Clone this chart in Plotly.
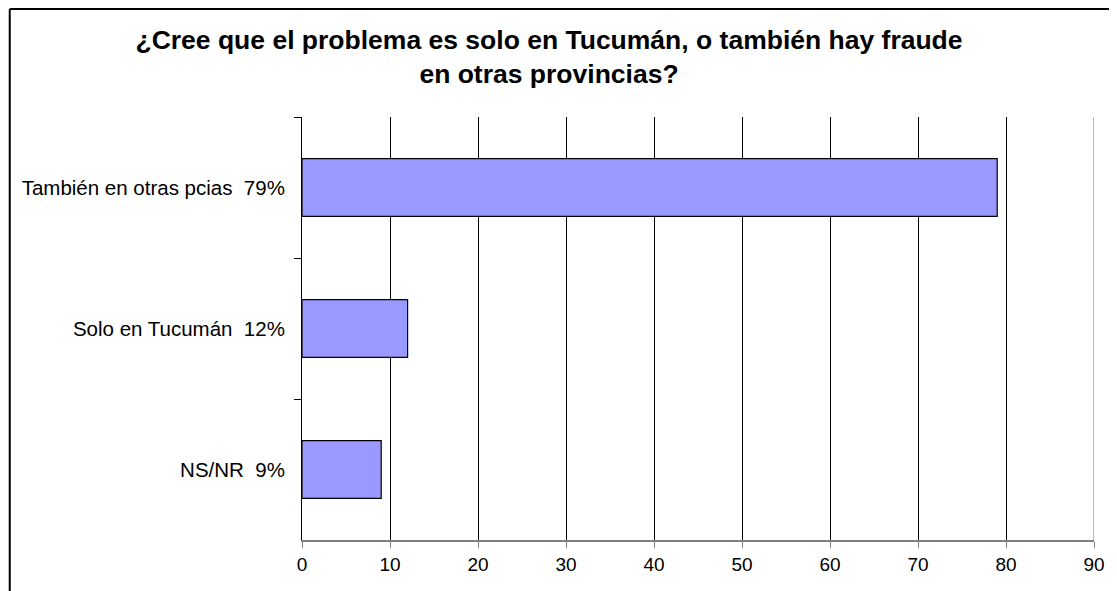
import plotly.graph_objects as go

categories = ["También en otras pcias\u00a0 79%", "Solo en Tucumán\u00a0 12%", "NS/NR\u00a0 9%"]
values = [79, 12, 9]
x_ticks = [0, 10, 20, 30, 40, 50, 60, 70, 80, 90]
title_text = "¿Cree que el problema es solo en Tucumán, o también hay fraude<br>en otras provincias?"

# page body has an 8px default margin; figure is sized to fill the rest
W, H = 1109, 583
L, R, T, B = 294, 21, 109, 51
pw, ph = W - L - R, H - T - B

FONT = "Liberation Sans, Arial, sans-serif"

fig = go.Figure(go.Bar(
    x=values, y=categories, orientation="h",
    marker=dict(color="#9999FF", line=dict(color="#000000", width=1.2)),
    width=0.41,
))

bx0 = (1 - L) / pw
by1 = 1 + (T - 1) / ph

fig.update_layout(
    width=W, height=H,
    margin=dict(l=L, r=R, t=T, b=B),
    paper_bgcolor="white", plot_bgcolor="white",
    showlegend=False,
    font=dict(family=FONT, color="#000000", size=19),
    title=dict(text=title_text, x=541 / W, xanchor="center", xref="container",
               y=1 - 41 / H, yanchor="top", yref="container",
               font=dict(family=FONT, size=26.5, color="#000000", weight="bold")),
    xaxis=dict(range=[0, 90], tickvals=x_ticks, showgrid=True, gridcolor="#000000", gridwidth=1,
               showline=True, linecolor="#808080", linewidth=2, ticks="outside", ticklen=6,
               tickcolor="#808080", tickwidth=1, zeroline=False, fixedrange=True,
               tickfont=dict(size=19)),
    yaxis=dict(autorange="reversed", showline=True, linecolor="#000000", linewidth=1,
               ticks="outside", ticklen=7, tickcolor="#000000", tickson="boundaries",
               showgrid=False, ticklabelstandoff=12, tickfont=dict(size=20.5)),
    shapes=[
        dict(type="line", xref="x", yref="paper", x0=90, x1=90, y0=0, y1=1,
             line=dict(color="#A0A0A0", width=1.5), layer="above"),
        dict(type="line", xref="paper", yref="paper",
             x0=bx0, x1=bx0, y0=-(B + 5) / ph, y1=by1,
             line=dict(color="#000000", width=2)),
        dict(type="line", xref="paper", yref="paper",
             x0=bx0, x1=1 + (R + 5) / pw, y0=by1, y1=by1,
             line=dict(color="#000000", width=2)),
    ],
)

fig.write_html("out.html")
